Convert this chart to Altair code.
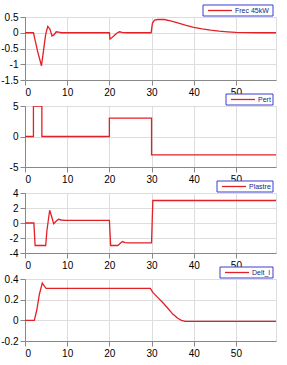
import altair as alt
import pandas as pd

# ---- data ----
t_frec = [0, 2, 2.5, 3, 3.5, 3.9, 4.4, 4.9, 5.4, 5.9, 6.4, 6.9, 7.4, 8.0, 8.6, 9.2, 20, 20.15, 20.5, 21.2, 21.9, 22.4, 23.0, 24, 29.9, 30.2, 30.7, 31.5, 33, 34.5, 36, 38, 40, 42, 44, 46, 48, 50, 53, 56, 59.5]
v_frec = [0, 0, -0.3, -0.6, -0.85, -1.05, -0.55, -0.05, 0.2, 0.12, -0.1, -0.06, 0.03, 0.02, 0.0, 0, 0, -0.2, -0.17, -0.08, 0.0, 0.03, 0.01, 0, 0, 0.3, 0.4, 0.42, 0.42, 0.38, 0.32, 0.24, 0.17, 0.12, 0.08, 0.05, 0.03, 0.015, 0.005, 0.0, 0.0]

t_pert = [0, 2.0, 2.0, 4.0, 4.0, 20.0, 20.0, 30.0, 30.0, 59.5]
v_pert = [0, 0, 5, 5, 0, 0, 3, 3, -3, -3]

t_plas = [0, 2.1, 2.4, 4.9, 5.2, 5.85, 6.3, 6.8, 7.3, 7.9, 8.6, 9.5, 20.0, 20.3, 22.0, 22.6, 23.1, 23.7, 24.5, 30.0, 30.3, 59.5]
v_plas = [0, 0, -3.0, -3.0, -1.0, 1.7, 0.9, -0.1, 0.2, 0.5, 0.4, 0.35, 0.35, -3.0, -3.0, -2.7, -2.48, -2.62, -2.65, -2.65, 3.0, 3.0]

t_delt = [0, 2.2, 2.8, 3.4, 4.1, 4.6, 5.0, 6.0, 29.7, 30.3, 31.5, 32.7, 34.0, 35.1, 36.2, 37.1, 38.0, 59.5]
v_delt = [0, 0, 0.1, 0.25, 0.36, 0.33, 0.31, 0.31, 0.31, 0.27, 0.22, 0.17, 0.11, 0.058, 0.02, 0.0, -0.01, -0.01]

x_ticks = [0, 10, 20, 30, 40, 50]
panels = [
    ("Frec 45kW", t_frec, v_frec, [-1.5, 0.5], [-1.5, -1, -0.5, 0, 0.5], 63, 70),
    ("Pert", t_pert, v_pert, [-5, 5], [-5, 0, 5], 61, 47),
    ("Plastre", t_plas, v_plas, [-4, 4], [-4, -2, 0, 2, 4], 60, 56),
    ("Delt_I", t_delt, v_delt, [-0.2, 0.4], [-0.2, 0, 0.2, 0.4], 62, 53),
]

RED = "#e41f26"
BLUE = "#3a3ad0"
GRID = "#d2d2ee"
W = 251


def make_panel(label, t, v, ydom, yticks, h, lw):
    df = pd.DataFrame({"t": t, "v": v})
    line = alt.Chart(df).mark_line(color=RED, strokeWidth=1.3, clip=True).encode(
        x=alt.X("t:Q", scale=alt.Scale(domain=[0, 59.5], nice=False, zero=False),
                axis=alt.Axis(values=x_ticks, title=None, labelExpr="datum.value + ''")),
        y=alt.Y("v:Q", scale=alt.Scale(domain=ydom, nice=False, zero=False),
                axis=alt.Axis(values=yticks, title=None, labelExpr="datum.value + ''")),
    )
    leg = pd.DataFrame({"label": [label]})
    x0 = W - 3 - lw
    box = alt.Chart(leg).mark_rect(fill="white", stroke=BLUE, strokeWidth=1).encode(
        x=alt.value(x0), x2=alt.value(W - 3), y=alt.value(-12), y2=alt.value(-1))
    sample = alt.Chart(leg).mark_rule(color=RED, strokeWidth=1.3).encode(
        x=alt.value(x0 + 5), x2=alt.value(x0 + 29), y=alt.value(-6.5))
    txt = alt.Chart(leg).mark_text(align="left", baseline="middle", fontSize=7,
                                   font="Liberation Sans", color="#24247a").encode(
        x=alt.value(x0 + 32), y=alt.value(-6.3), text="label:N")
    return alt.layer(line, box, sample, txt).properties(width=W, height=h)


chart = alt.vconcat(*[make_panel(*p) for p in panels], spacing=-5).properties(
    padding={"left": 0, "top": 4, "right": 0, "bottom": 2}
).configure_view(stroke=BLUE, strokeWidth=1).configure_axis(
    domain=False, ticks=False, tickSize=0, grid=True, gridColor=GRID, gridWidth=0.8,
    labelFont="Liberation Sans", labelFontSize=7, labelColor=BLUE, labelPadding=0,
).configure(background="white")

chart.save("out.html", embed_options={"renderer": "svg", "actions": False})
